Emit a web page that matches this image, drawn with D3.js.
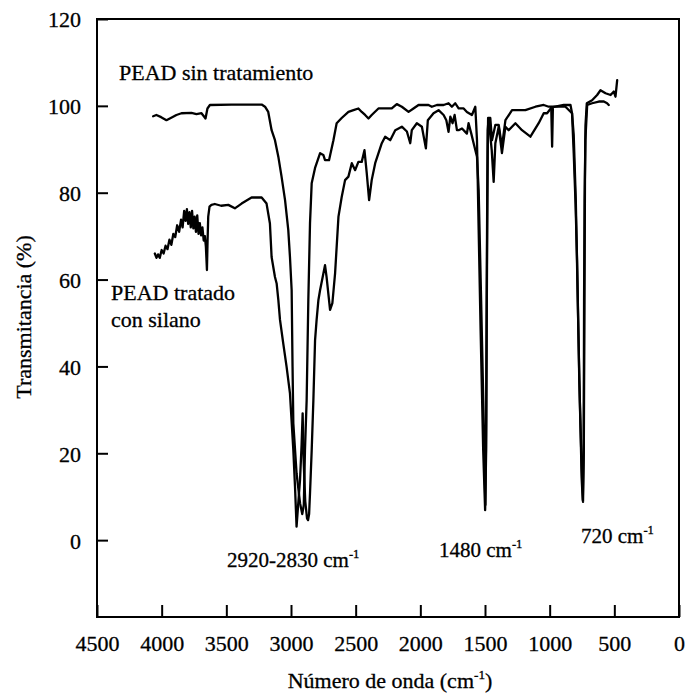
<!DOCTYPE html>
<html>
<head>
<meta charset="utf-8">
<script src="https://cdn.jsdelivr.net/npm/d3@7"></script>
<style>
  html, body { margin: 0; padding: 0; background: #fff; }
  svg { display: block; }
  text { font-family: "Liberation Serif", "DejaVu Serif", serif; fill: #000; }
</style>
</head>
<body>
<svg id="chart" width="688" height="696"></svg>
<script>
// ---- data ----
const xTicks = [4500, 4000, 3500, 3000, 2500, 2000, 1500, 1000, 500, 0];
const yTicks = [0, 20, 40, 60, 80, 100, 120];

// PEAD sin tratamiento: [wavenumber (cm-1), transmittance (%)]
const sinTratamiento = [
  [4066,97.6],[4041,97.9],[4004,97.4],[3963,96.7],[3937,97.1],[3886,97.9],[3847,98.3],[3770,98.4],
  [3731,98.1],[3692,98.3],[3671,97.5],[3661,97.1],[3646,99.4],[3627,100.2],[3460,100.3],[3227,100.3],
  [3201,99.8],[3176,98.6],[3150,94.4],[3124,92.1],[3098,88.3],[3073,83.7],[3046,78.3],[3021,71.4],
  [3008,65.2],[2995,57.6],[2988,39.9],[2982,26.9],[2957,15.4],[2930,8.5],[2913,6.0],[2901,8.1],
  [2892,20.7],[2879,32.2],[2866,55.3],[2853,73.0],[2840,82.2],[2814,85.7],[2775,89.1],[2750,88.7],
  [2737,87.5],[2706,87.5],[2672,92.1],[2647,96.0],[2608,97.2],[2556,98.6],[2517,99.0],[2479,99.4],
  [2453,98.6],[2427,97.9],[2401,97.1],[2376,97.9],[2324,99.4],[2221,99.4],[2182,100.4],[2143,99.8],
  [2091,98.6],[2053,99.4],[2014,100.2],[1937,100.2],[1911,99.8],[1872,100.2],[1820,100.2],[1782,100.6],
  [1756,99.8],[1730,100.6],[1704,99.4],[1665,99.4],[1640,98.6],[1601,97.9],[1575,99.8],[1562,92.1],
  [1549,71.4],[1534,48.4],[1514,20.7],[1499,6.9],[1491,20.7],[1487,48.4],[1483,71.4],[1479,89.8],
  [1476,97.2],[1459,97.2],[1446,92.1],[1420,95.6],[1394,95.6],[1369,90.6],[1342,96.7],[1291,99.0],
  [1188,99.0],[1110,99.8],[1046,100.2],[1007,99.8],[988,99.8],[981,90.6],[975,99.7],[891,100.2],
  [839,100.2],[827,98.3],[814,89.1],[800,77.5],[788,64.5],[771,36.8],[752,16.1],[742,8.8],
  [736,20.7],[731,55.3],[727,82.9],[723,95.6],[713,100.6],[672,101.3],[633,102.5],[607,103.6],
  [568,102.9],[529,102.5],[504,103.3],[491,102.1],[478,105.9]
];

// PEAD tratado con silano: [wavenumber (cm-1), transmittance (%)]
const tratadoSilano = [
  [4053,66.0],[4040,65.0],[4028,65.8],[4015,65.0],[4000,66.8],[3985,66.0],[3970,67.8],[3955,67.0],
  [3940,69.2],[3925,68.0],[3910,70.5],[3895,69.8],[3880,72.5],[3865,71.0],[3850,73.8],[3838,72.0],
  [3826,75.8],[3815,73.5],[3805,76.2],[3795,72.8],[3785,75.5],[3775,72.0],[3765,75.8],[3755,71.8],
  [3745,74.5],[3735,71.0],[3725,74.8],[3715,70.5],[3705,73.0],[3695,70.2],[3685,72.0],[3675,69.0],
  [3666,70.0],[3658,67.5],[3650,62.2],[3645,69.0],[3640,74.5],[3630,76.8],[3615,77.2],[3589,77.4],
  [3540,77.0],[3485,77.2],[3434,76.4],[3382,77.5],[3305,78.9],[3227,78.9],[3189,77.5],[3163,72.9],
  [3150,65.2],[3124,60.6],[3111,59.1],[3098,55.3],[3085,50.7],[3060,45.3],[3034,39.9],[3008,33.8],
  [2982,20.7],[2969,12.3],[2957,3.1],[2945,8.0],[2930,14.0],[2918,22.0],[2910,29.2],[2902,18.0],
  [2890,9.0],[2876,5.0],[2868,4.6],[2860,6.0],[2853,10.8],[2840,20.7],[2827,32.2],[2814,46.0],
  [2802,50.7],[2788,55.3],[2775,57.6],[2737,63.3],[2725,60.6],[2698,53.0],[2680,54.6],[2659,61.5],
  [2633,74.5],[2608,79.0],[2582,82.9],[2556,83.7],[2530,86.8],[2504,85.2],[2479,87.1],[2453,87.1],
  [2432,89.8],[2414,84.4],[2396,78.3],[2376,82.9],[2349,86.8],[2298,91.4],[2272,92.9],[2233,92.1],
  [2194,94.4],[2143,95.2],[2104,94.1],[2078,91.4],[2066,94.4],[2027,96.0],[1988,95.2],[1957,90.2],
  [1942,96.7],[1898,98.3],[1859,99.0],[1820,97.9],[1799,96.7],[1782,94.0],[1768,97.5],[1751,96.0],
  [1735,97.9],[1717,94.4],[1704,94.4],[1678,94.8],[1640,93.6],[1627,96.0],[1606,93.6],[1588,91.4],
  [1562,88.3],[1549,80.6],[1530,55.3],[1510,27.6],[1497,8.1],[1491,27.6],[1487,55.3],[1483,78.3],
  [1479,94.4],[1472,97.1],[1448,89.8],[1433,82.5],[1420,91.4],[1394,95.2],[1369,89.1],[1342,95.2],
  [1317,94.4],[1265,96.0],[1214,94.4],[1149,92.9],[1085,96.0],[1046,98.3],[1020,98.3],[981,99.8],
  [878,99.8],[827,98.3],[814,93.3],[798,78.3],[783,55.3],[767,32.2],[752,13.8],[744,9.2],
  [737,20.7],[734,55.3],[730,78.3],[724,92.1],[710,100.2],[672,100.6],[620,101.0],[581,101.0],
  [556,100.6],[543,100.2]
];

(function () {
  const svg = d3.select("#chart");
  const pL = 97, pR = 679, pT = 19, pB = 617;

  const x = d3.scaleLinear().domain([4500, 0]).range([pL, pR]);
  const y = d3.scaleLinear().domain([120, -17.7]).range([pT, pB]);

  svg.append("rect").attr("width", 688).attr("height", 696).attr("fill", "#fff");

  // frame
  svg.append("rect")
    .attr("x", pL).attr("y", pT)
    .attr("width", pR - pL).attr("height", pB - pT)
    .attr("fill", "none").attr("stroke", "#000").attr("stroke-width", 2);

  // axes
  const xAxis = d3.axisBottom(x).tickValues(xTicks).tickFormat(d3.format("d"))
    .tickSizeInner(-12).tickSizeOuter(0).tickPadding(18);
  const gx = svg.append("g").attr("transform", `translate(0,${pB})`).call(xAxis);
  gx.select(".domain").remove();
  gx.selectAll(".tick line").attr("stroke", "#000").attr("stroke-width", 2);
  gx.selectAll(".tick text").attr("font-size", 22).attr("font-family", "Liberation Serif")
    .attr("stroke", "#000").attr("stroke-width", 0.3);

  const yAxis = d3.axisLeft(y).tickValues(yTicks).tickFormat(d3.format("d"))
    .tickSizeInner(-11).tickSizeOuter(0).tickPadding(16);
  const gy = svg.append("g").attr("transform", `translate(${pL},0)`).call(yAxis);
  gy.select(".domain").remove();
  gy.selectAll(".tick line").attr("stroke", "#000").attr("stroke-width", 2);
  gy.selectAll(".tick text").attr("font-size", 22).attr("font-family", "Liberation Serif")
    .attr("stroke", "#000").attr("stroke-width", 0.3).attr("dy", "0.36em");

  // spectra
  const line = d3.line().x(d => x(d[0])).y(d => y(d[1]));
  [sinTratamiento, tratadoSilano].forEach(s => {
    svg.append("path").datum(s).attr("d", line)
      .attr("fill", "none").attr("stroke", "#000")
      .attr("stroke-width", 2.3).attr("stroke-linejoin", "round").attr("stroke-linecap", "round");
  });

  // text helper with superscript
  function label(xp, yp, main, sup, after, size) {
    const t = svg.append("text").attr("x", xp).attr("y", yp)
      .attr("font-size", size).attr("stroke", "#000").attr("stroke-width", 0.3);
    t.append("tspan").text(main);
    if (sup) {
      t.append("tspan").attr("font-size", size * 0.6).attr("dy", -size * 0.42).text(sup);
      if (after) t.append("tspan").attr("dy", size * 0.42).text(after);
    }
    return t;
  }

  label(119, 80, "PEAD sin tratamiento", null, null, 22);
  label(111, 300, "PEAD tratado", null, null, 22);
  label(111, 327, "con silano", null, null, 22);
  label(227, 567, "2920-2830 cm", "-1", null, 21);
  label(439, 557, "1480 cm", "-1", null, 21);
  label(581, 543, "720 cm", "-1", null, 21);

  // axis titles
  const xt = label(0, 688, "Número de onda (cm", "-1", ")", 22);
  xt.attr("x", 390).attr("text-anchor", "middle");

  svg.append("text")
    .attr("transform", "translate(31,317) rotate(-90)")
    .attr("text-anchor", "middle").attr("font-size", 22)
    .attr("stroke", "#000").attr("stroke-width", 0.3)
    .text("Transmitancia (%)");
})();
</script>
</body>
</html>
